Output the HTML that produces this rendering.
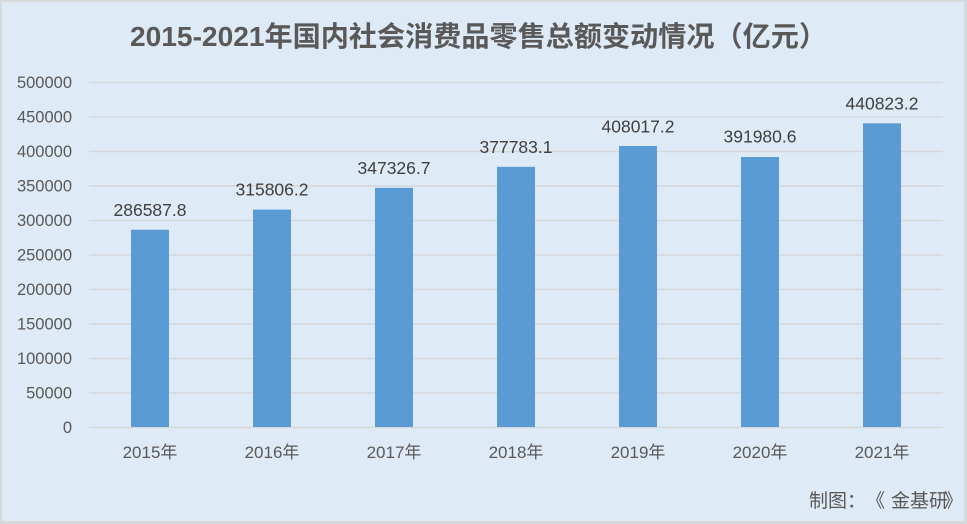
<!DOCTYPE html>
<html><head><meta charset="utf-8"><style>
html,body{margin:0;padding:0;background:#deeaf6;}
svg{display:block;}
</style></head><body>
<svg width="967" height="524" viewBox="0 0 967 524" xmlns="http://www.w3.org/2000/svg">
<rect x="0" y="0" width="967" height="524" fill="#d6d9dc"/>
<rect x="2" y="2" width="962" height="519" fill="#deeaf6"/>
<text x="130" y="46" font-family="Liberation Sans, Noto Sans CJK SC, sans-serif" font-weight="bold" font-size="28" fill="#595959" textLength="697" lengthAdjust="spacingAndGlyphs">2015-2021年国内社会消费品零售总额变动情况（亿元）</text>
<g stroke="#d4d7da" stroke-width="1.5">
<line x1="89" x2="943" y1="82.5" y2="82.5"/>
<line x1="89" x2="943" y1="117" y2="117"/>
<line x1="89" x2="943" y1="151.5" y2="151.5"/>
<line x1="89" x2="943" y1="186" y2="186"/>
<line x1="89" x2="943" y1="220.5" y2="220.5"/>
<line x1="89" x2="943" y1="255" y2="255"/>
<line x1="89" x2="943" y1="289.5" y2="289.5"/>
<line x1="89" x2="943" y1="324" y2="324"/>
<line x1="89" x2="943" y1="358.5" y2="358.5"/>
<line x1="89" x2="943" y1="393" y2="393"/>
<line x1="89" x2="943" y1="427.5" y2="427.5"/>
</g>
<g font-family="Liberation Sans, sans-serif" font-size="16.5" fill="#595959" text-anchor="end">
<text x="72" y="88">500000</text>
<text x="72" y="122.5">450000</text>
<text x="72" y="157">400000</text>
<text x="72" y="191.5">350000</text>
<text x="72" y="226">300000</text>
<text x="72" y="260.5">250000</text>
<text x="72" y="295">200000</text>
<text x="72" y="329.5">150000</text>
<text x="72" y="364">100000</text>
<text x="72" y="398.5">50000</text>
<text x="72" y="433">0</text>
</g>
<g fill="#5b9bd5">
<rect x="131" y="229.75" width="38" height="197.25"/>
<rect x="253" y="209.6" width="38" height="217.4"/>
<rect x="375" y="187.84" width="38" height="239.16"/>
<rect x="497" y="166.83" width="38" height="260.17"/>
<rect x="619" y="145.97" width="38" height="281.03"/>
<rect x="741" y="157.03" width="38" height="269.97"/>
<rect x="863" y="123.33" width="38" height="303.67"/>
</g>
<g font-family="Liberation Sans, sans-serif" font-size="17.5" fill="#404040" text-anchor="middle">
<text x="150" y="216">286587.8</text>
<text x="272" y="195.6">315806.2</text>
<text x="394" y="173.8">347326.7</text>
<text x="516" y="152.8">377783.1</text>
<text x="638" y="132.5">408017.2</text>
<text x="760" y="142.5">391980.6</text>
<text x="882" y="109.5">440823.2</text>
</g>
<g font-family="Liberation Sans, Noto Sans CJK SC, sans-serif" font-size="17" fill="#595959" text-anchor="middle">
<text x="150" y="458">2015年</text>
<text x="272" y="458">2016年</text>
<text x="394" y="458">2017年</text>
<text x="516" y="458">2018年</text>
<text x="638" y="458">2019年</text>
<text x="760" y="458">2020年</text>
<text x="882" y="458">2021年</text>
</g>
<g font-family="Liberation Sans, Noto Sans CJK SC, sans-serif" font-size="19" fill="#595959">
<text x="809" y="507">制图：</text>
<text x="866" y="507">《</text>
<text x="891" y="507">金基研</text>
<text x="944" y="507">》</text>
</g>
</svg>
</body></html>
